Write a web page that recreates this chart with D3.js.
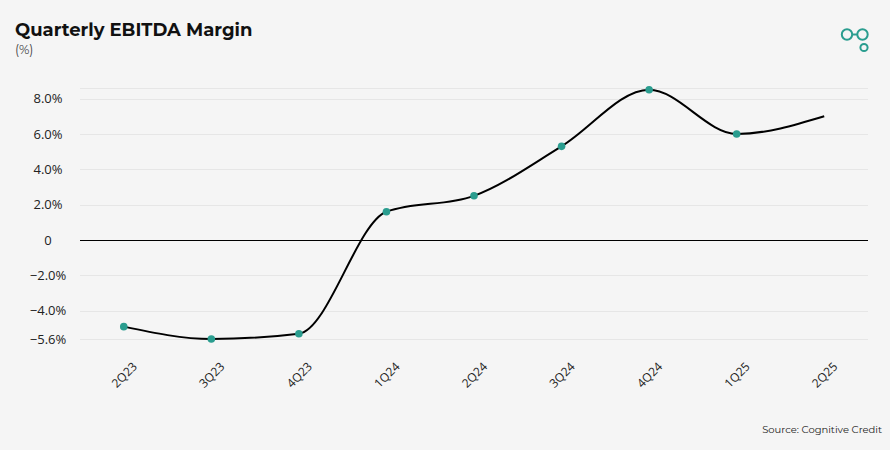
<!DOCTYPE html>
<html lang="en">
<head>
<meta charset="UTF-8">
<title>Quarterly EBITDA Margin</title>
<style>
    body { margin: 0; background: #f5f5f5; }
    svg { display: block; }
    .axis text { font-family: "Open Sans", sans-serif; fill: #222; }
</style>
</head>
<body>
<script src="https://cdn.jsdelivr.net/npm/d3@7"></script>
<script>

    var quarters = ["2Q23", "3Q23", "4Q23", "1Q24", "2Q24", "3Q24", "4Q24", "1Q25", "2Q25"];
    var ebitdaMargin = [-4.9, -5.6, -5.3, 1.6, 2.5, 5.3, 8.5, 6.0, 7.0];
    var yTicks = [-5.6, -4, -2, 0, 2, 4, 6, 8];
    var yTop = 8.6;

    var data = quarters.map(function (q, i) { return { q: q, v: ebitdaMargin[i] }; });

    var width = 890, height = 450;
    var plotLeft = 80, plotRight = 868, plotTop = 88, plotBottom = 339;

    var svg = d3.select("body").append("svg")
        .attr("width", width)
        .attr("height", height);

    svg.append("rect").attr("width", width).attr("height", height).attr("fill", "#f5f5f5");

    var x = d3.scalePoint().domain(quarters).range([plotLeft, plotRight]).padding(0.5);
    var y = d3.scaleLinear().domain([yTicks[0], yTop]).range([plotBottom, plotTop]);

    function crisp(v) { return Math.round(v) + 0.5; }

    // title
    svg.append("text")
        .attr("x", 15).attr("y", 36)
        .style("font-family", "Montserrat, Inter, sans-serif")
        .style("font-weight", 700)
        .style("font-size", "18px")
        .attr("fill", "#111")
        .text("Quarterly EBITDA Margin");

    svg.append("text")
        .attr("x", 15).attr("y", 54)
        .style("font-family", "Montserrat, Inter, sans-serif")
        .style("font-size", "12.5px")
        .attr("fill", "#444")
        .text("(%)");

    // grid lines
    svg.append("g")
        .selectAll("line")
        .data(yTicks.concat([yTop]).filter(function (d) { return d !== 0; }))
        .enter().append("line")
        .attr("x1", plotLeft).attr("x2", plotRight)
        .attr("y1", function (d) { return crisp(y(d)); })
        .attr("y2", function (d) { return crisp(y(d)); })
        .attr("stroke", "#e6e6e6");

    // y axis
    var yAxis = d3.axisLeft(y)
        .tickValues(yTicks)
        .tickSize(0)
        .tickFormat(function (d) { return d === 0 ? "0" : d3.format(".1f")(d) + "%"; });

    var gy = svg.append("g")
        .attr("class", "axis")
        .attr("transform", "translate(" + plotLeft + ",0)")
        .call(yAxis);
    gy.select(".domain").remove();
    gy.selectAll("text")
        .attr("x", -32)
        .attr("text-anchor", "middle")
        .style("font-size", "13px");

    // zero line
    svg.append("line")
        .attr("x1", plotLeft).attr("x2", plotRight)
        .attr("y1", crisp(y(0))).attr("y2", crisp(y(0)))
        .attr("stroke", "#000");

    // x axis
    var gx = svg.append("g")
        .attr("class", "axis")
        .attr("transform", "translate(0,375)")
        .call(d3.axisBottom(x).tickSize(0));
    gx.select(".domain").remove();
    gx.selectAll("text")
        .attr("y", 0)
        .attr("dy", ".35em")
        .attr("text-anchor", "middle")
        .attr("transform", "rotate(-45)")
        .style("font-size", "12px");

    // line
    var line = d3.line()
        .x(function (d) { return x(d.q); })
        .y(function (d) { return y(d.v); })
        .curve(d3.curveMonotoneX);

    svg.append("path")
        .datum(data)
        .attr("d", line)
        .attr("fill", "none")
        .attr("stroke", "#000")
        .attr("stroke-width", 2);

    // dots (last quarter has none)
    svg.append("g")
        .selectAll("circle")
        .data(data.slice(0, -1))
        .enter().append("circle")
        .attr("cx", function (d) { return x(d.q); })
        .attr("cy", function (d) { return y(d.v); })
        .attr("r", 3.8)
        .attr("fill", "#2a9d8f");

    // logo
    var logo = svg.append("g")
        .attr("fill", "none")
        .attr("stroke", "#2a9d8f")
        .attr("stroke-width", 2);
    logo.append("circle").attr("cx", 847).attr("cy", 34.5).attr("r", 5.2);
    logo.append("circle").attr("cx", 862.5).attr("cy", 34.5).attr("r", 5.2);
    logo.append("line").attr("x1", 852).attr("x2", 857.5).attr("y1", 34.5).attr("y2", 34.5);
    logo.append("circle").attr("cx", 864).attr("cy", 47.5).attr("r", 3.6);

    // source
    svg.append("text")
        .attr("x", 882).attr("y", 433)
        .attr("text-anchor", "end")
        .style("font-family", "Montserrat, Inter, sans-serif")
        .style("font-size", "10px")
        .attr("fill", "#222")
        .text("Source: Cognitive Credit");

</script>
</body>
</html>
